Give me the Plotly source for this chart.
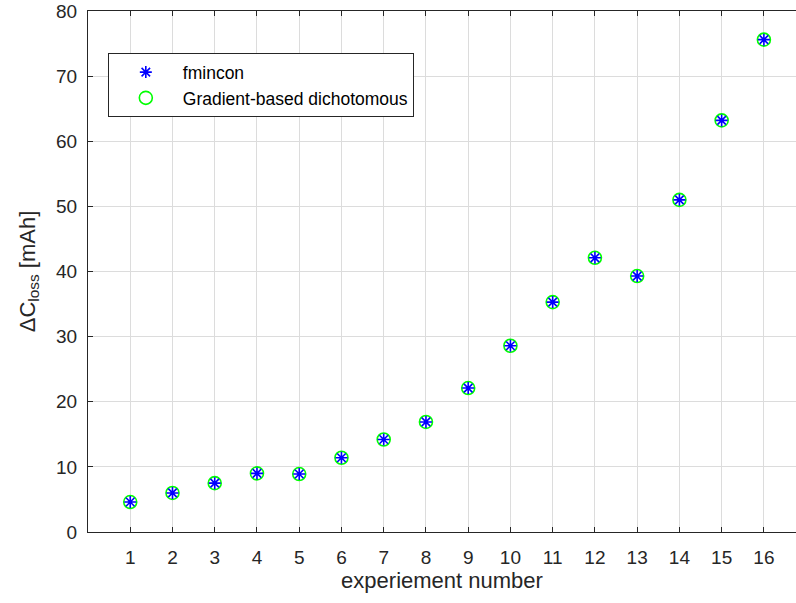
import plotly.graph_objects as go

experiment = list(range(1, 17))
fmincon = [4.6, 6.0, 7.5, 9.0, 8.9, 11.4, 14.2, 16.9, 22.1, 28.6, 35.3, 42.1, 39.3, 51.0, 63.2, 75.6]
dichotomous = [4.6, 6.0, 7.5, 9.0, 8.9, 11.4, 14.2, 16.9, 22.1, 28.6, 35.3, 42.1, 39.3, 51.0, 63.2, 75.6]
x_ticks = list(range(1, 17))
y_ticks = [0, 10, 20, 30, 40, 50, 60, 70, 80]

font = "Arial"
axcol = "#262626"

fig = go.Figure()

# circles first so the asterisks sit on top
fig.add_trace(go.Scatter(
    x=experiment, y=dichotomous, mode="markers", name="Gradient-based dichotomous",
    legendrank=2,
    marker=dict(symbol="circle-open", size=13, color="#00ff00", line=dict(width=1.6, color="#00ff00")),
))
fig.add_trace(go.Scatter(
    x=experiment, y=fmincon, mode="markers", name="fmincon",
    legendrank=1,
    marker=dict(symbol="asterisk-open", size=10, color="#0000ff", line=dict(width=1.6, color="#0000ff")),
))

fig.update_layout(
    width=796, height=603,
    margin=dict(l=88, r=0, t=11, b=71, autoexpand=False),
    paper_bgcolor="white", plot_bgcolor="white",
    font=dict(family=font, size=19, color=axcol),
    showlegend=True,
    legend=dict(
        x=0.028, y=0.919, xanchor="left", yanchor="top",
        bgcolor="white", bordercolor=axcol, borderwidth=1,
        font=dict(family=font, size=17.5, color="black"),
        tracegroupgap=0, itemwidth=64,
    ),
)

fig.update_xaxes(
    range=[0, 16.76], tickvals=x_ticks, ticktext=[str(v) for v in x_ticks],
    tickfont=dict(family=font, size=19, color=axcol), ticklabelstandoff=8,
    showgrid=True, gridcolor="#dcdcdc", gridwidth=1,
    showline=True, linecolor=axcol, linewidth=1, mirror="ticks",
    ticks="inside", ticklen=5, tickcolor=axcol,
    zeroline=False, automargin=False,
    title=dict(text="experiement number", font=dict(size=22, family=font, color=axcol), standoff=4),
)
fig.update_yaxes(
    range=[0, 80], tickvals=y_ticks,
    tickfont=dict(family=font, size=19, color=axcol), ticklabelstandoff=6,
    ticklabeloverflow="allow",
    showgrid=True, gridcolor="#dcdcdc", gridwidth=1,
    showline=True, linecolor=axcol, linewidth=1,
    ticks="inside", ticklen=5, tickcolor=axcol,
    zeroline=False, automargin=False,
    title=dict(text="\u0394C<sub>loss</sub> [mAh]", font=dict(size=22, family=font, color=axcol), standoff=14),
)

# drop the default 8px body margin so the figure sits at the page corner
fig.write_html("out.html", config={"displayModeBar": False},
               post_script="document.body.style.margin = '0';")
